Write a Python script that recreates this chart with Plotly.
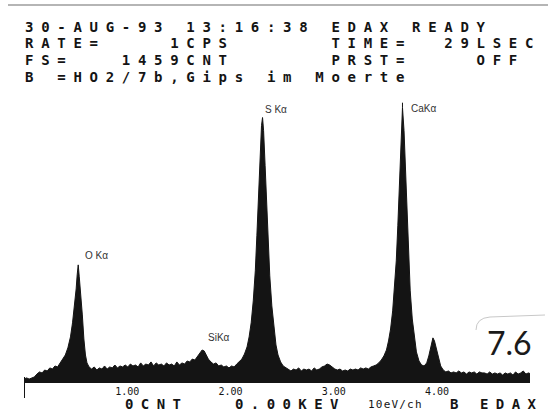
import plotly.graph_objects as go

# ---------------- data ----------------
energy_kev = [
    0.000, 0.025, 0.050, 0.075, 0.100, 0.125, 0.150, 0.175, 0.200, 0.225,
    0.250, 0.275, 0.300, 0.325, 0.350, 0.375, 0.400, 0.425, 0.450, 0.470,
    0.490, 0.505, 0.515, 0.525, 0.535, 0.550, 0.565, 0.580, 0.595, 0.610,
    0.630, 0.655, 0.680, 0.705, 0.730, 0.755, 0.780, 0.805, 0.830, 0.855,
    0.880, 0.905, 0.930, 0.955, 0.980, 1.005, 1.030, 1.055, 1.080, 1.105,
    1.130, 1.155, 1.180, 1.205, 1.230, 1.255, 1.280, 1.305, 1.330, 1.355,
    1.380, 1.405, 1.430, 1.455, 1.480, 1.505, 1.530, 1.555, 1.580, 1.605,
    1.630, 1.655, 1.680, 1.705, 1.725, 1.745, 1.765, 1.785, 1.810, 1.835,
    1.860, 1.885, 1.910, 1.935, 1.960, 1.985, 2.010, 2.035, 2.060, 2.085,
    2.110, 2.135, 2.160, 2.180, 2.200, 2.220, 2.240, 2.255, 2.270, 2.285,
    2.300, 2.310, 2.320, 2.335, 2.350, 2.365, 2.380, 2.400, 2.420, 2.440,
    2.460, 2.485, 2.510, 2.535, 2.560, 2.585, 2.610, 2.635, 2.660, 2.685,
    2.710, 2.735, 2.760, 2.785, 2.810, 2.835, 2.860, 2.885, 2.910, 2.935,
    2.960, 2.985, 3.010, 3.035, 3.060, 3.085, 3.110, 3.135, 3.160, 3.185,
    3.210, 3.235, 3.260, 3.285, 3.310, 3.335, 3.360, 3.385, 3.410, 3.435,
    3.460, 3.485, 3.510, 3.530, 3.550, 3.570, 3.590, 3.605, 3.620, 3.635,
    3.650, 3.665, 3.680, 3.695, 3.710, 3.725, 3.740, 3.760, 3.780, 3.800,
    3.825, 3.850, 3.875, 3.900, 3.920, 3.940, 3.960, 3.975, 3.995, 4.015,
    4.035, 4.060, 4.085, 4.110, 4.135, 4.160, 4.185, 4.210, 4.235, 4.260,
    4.285, 4.310, 4.335, 4.360, 4.385, 4.410, 4.435, 4.460, 4.485, 4.510,
    4.535, 4.560, 4.585, 4.610, 4.635, 4.660, 4.685, 4.710, 4.735, 4.760,
    4.785, 4.810, 4.835, 4.860, 4.885, 4.910,
]
counts = [
    10, 16, 10, 16, 21, 36, 47, 42, 57, 52,
    68, 62, 78, 73, 94, 109, 135, 172, 229, 302,
    395, 478, 551, 603, 541, 458, 343, 218, 135, 94,
    73, 62, 73, 57, 68, 62, 78, 62, 73, 68,
    83, 68, 78, 73, 83, 73, 88, 78, 83, 73,
    94, 78, 88, 83, 99, 78, 94, 83, 88, 78,
    94, 83, 88, 78, 99, 83, 94, 88, 104, 99,
    114, 109, 130, 146, 161, 156, 135, 114, 99, 88,
    94, 78, 83, 73, 78, 68, 78, 73, 88, 99,
    114, 140, 177, 229, 302, 416, 572, 754, 962, 1170,
    1326, 1368, 1300, 1118, 910, 728, 546, 390, 270, 187,
    135, 99, 78, 68, 62, 52, 62, 57, 68, 52,
    62, 57, 62, 52, 68, 57, 62, 73, 78, 88,
    83, 73, 62, 57, 62, 52, 57, 52, 62, 57,
    62, 57, 68, 62, 68, 62, 73, 78, 83, 94,
    109, 130, 161, 208, 270, 364, 494, 624, 806, 1014,
    1248, 1420, 1300, 1066, 832, 624, 468, 322, 218, 151,
    104, 83, 78, 94, 130, 182, 224, 208, 166, 114,
    78, 57, 47, 52, 42, 47, 42, 52, 42, 47,
    36, 47, 42, 47, 36, 47, 42, 42, 36, 47,
    36, 42, 36, 42, 31, 42, 36, 42, 31, 47,
    36, 42, 52, 36, 42, 36,
]
full_scale_cnt = 1459
x_max_kev = 4.9

tick_vals = [1, 2, 3, 4]
tick_text = ["1.00", "2.00", "3.00", "4.00"]

peak_labels = ["O Kα", "SiKα", "S Kα", "CaKα"]
label_energy = [0.70, 1.89, 2.44, 3.87]
label_counts = [650, 224, 1409, 1414]

ca_marker_energy = [3.665, 3.665]
ca_marker_counts = [1420, 1445]

header_lines = [
    "30-AUG-93 13:16:38 EDAX READY",
    "RATE=    1CPS      TIME=  29LSEC",
    "FS=   1459CNT      PRST=    OFF",
    "B =HO2/7b,Gips im Moerte",
]
footer_items = ["0CNT", "0.00KEV", "10eV/ch", "B", "EDAX"]
note_text = "7.6"

# ---------------- layout helpers (pixel -> paper) ----------------
W, H = 548, 414
L, R, T, B = 24, 18, 100, 33
PW, PH = W - L - R, H - T - B


def px(x):
    return (x - L) / PW


def py(y):
    return (H - B - y) / PH


def spaced(s, sp):
    return '<span style="letter-spacing:%.1fpx">%s</span>' % (sp, s.replace(" ", "\u00a0"))


MONO = "DejaVu Sans Mono"
INK = "#141414"

fig = go.Figure()
fig.add_trace(go.Scatter(
    x=energy_kev, y=counts, mode="lines",
    line=dict(color=INK, width=1),
    fill="tozeroy", fillcolor=INK,
    hoverinfo="skip", showlegend=False,
))
fig.add_trace(go.Scatter(
    x=ca_marker_energy, y=ca_marker_counts, mode="lines",
    line=dict(color=INK, width=1), hoverinfo="skip", showlegend=False,
))

annotations = []
header_y = [27, 43.5, 60, 76.5]
for txt, yy in zip(header_lines, header_y):
    annotations.append(dict(
        xref="paper", yref="paper", x=px(23), y=py(yy),
        xanchor="left", yanchor="middle", showarrow=False,
        text="<b>%s</b>" % spaced(txt, 7.7),
        font=dict(family=MONO, size=14, color=INK),
    ))

footer_x = [123, 233, 366, 448, 478]
footer_font = [14, 14, 11, 14, 14]
footer_sp = [7.4, 7.4, 1.2, 7.4, 7.4]
footer_bold = [True, True, False, True, True]
for txt, xx, fs, sp, bd in zip(footer_items, footer_x, footer_font, footer_sp, footer_bold):
    t = spaced(txt, sp)
    annotations.append(dict(
        xref="paper", yref="paper", x=px(xx), y=py(404),
        xanchor="left", yanchor="middle", showarrow=False,
        text=("<b>%s</b>" % t) if bd else t,
        font=dict(family=MONO, size=fs, color=INK),
    ))

for txt, ex, cy in zip(peak_labels, label_energy, label_counts):
    annotations.append(dict(
        x=ex, y=cy, xanchor="center", yanchor="middle", showarrow=False,
        text=txt, font=dict(family="Liberation Sans", size=10, color="#333333"),
    ))

annotations.append(dict(
    xref="paper", yref="paper", x=px(509), y=py(342),
    xanchor="center", yanchor="middle", showarrow=False,
    text=note_text, font=dict(family="Lato", size=32, color="#1a1a1a"),
))

shapes = [
    # vertical zero mark of the axis
    dict(type="line", xref="x", yref="paper", x0=0, x1=0, y0=py(377), y1=py(398),
         line=dict(color=INK, width=2)),
    # scan edge at the very top
    dict(type="line", xref="paper", yref="paper", x0=px(8), x1=px(548), y0=py(5), y1=py(5),
         line=dict(color="#b5b5b5", width=2)),
    # edge of the stuck-on note
    dict(type="path", xref="paper", yref="paper",
         path="M %f %f Q %f %f %f %f L %f %f" % (
             px(476), py(330), px(476), py(318), px(490), py(317),
             px(545), py(315)),
         line=dict(color="#c8c8c8", width=1)),
]

fig.update_layout(
    width=W, height=H,
    margin=dict(l=L, r=R, t=T, b=B),
    paper_bgcolor="white", plot_bgcolor="white",
    xaxis=dict(
        range=[0, x_max_kev], showgrid=False, zeroline=False,
        showline=True, linecolor=INK, linewidth=2,
        tickmode="array", tickvals=tick_vals, ticktext=tick_text,
        ticks="", tickfont=dict(family=MONO, size=10, color=INK),
        fixedrange=True,
    ),
    yaxis=dict(
        range=[0, full_scale_cnt], visible=False, fixedrange=True,
    ),
    annotations=annotations,
    shapes=shapes,
    showlegend=False,
)

fig.write_html(
    "out.html",
    config={"displayModeBar": False},
    post_script="document.body.style.margin='0';document.body.style.padding='0';",
)
